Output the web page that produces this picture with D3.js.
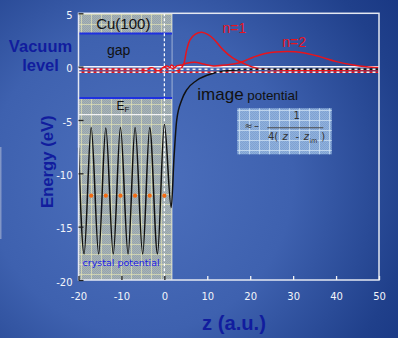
<!DOCTYPE html>
<html>
<head>
<meta charset="utf-8">
<script src="https://cdn.jsdelivr.net/npm/d3@7"></script>
<style>
  html, body { margin: 0; padding: 0; overflow: hidden; background: #2f4f9f; }
  svg { display: block; }
</style>
</head>
<body>
<svg id="chart" width="398" height="338"></svg>
<script>
// ---- data -------------------------------------------------------------
const zTicks = [-20, -10, 0, 10, 20, 30, 40, 50];
const eTicks = [-20, -15, -10, -5, 0, 5];
const zDomain = [-20, 50];
const eDomain = [-20, 5];

const crystalEdge = 1.8;          // z (a.u.) where the bulk ends
const gapBand = [-2.95, 3.1];     // projected bulk band gap of Cu(100), eV
const n1Level = -0.52;            // image-state energies, eV
const n2Level = -0.25;

// atom planes (lattice spacing 3.41 a.u.)
const atomZ = [-17.05, -13.64, -10.23, -6.82, -3.41, 0];
const atomE = -12.1;

// crystal potential (extrema) followed by the image-potential tail
const potZ = [-20, -18.7, -17.05, -15.3, -13.64, -11.9, -10.23, -8.45, -6.82, -5.05, -3.41, -1.6, 0,
              1.6, 2.26, 2.88, 4.05, 5.2, 7.5, 11.4, 15.3, 19.2, 25, 50];
const potE = [-7.6, -17.55, -5.7, -17.55, -5.75, -17.55, -5.7, -17.55, -5.7, -17.55, -5.7, -17.55, -5.4,
              -13.2, -8.43, -5.0, -3.12, -2.18, -1.3, -0.62, -0.37, -0.27, -0.25, -0.25];

// n = 1 image-state probability density (drawn offset on the energy axis)
const n1Z = [-20, -6, -4.5, -2.9, -1.5, 0, 0.9, 1.7, 3.2, 4.42, 5.21, 5.98, 7.14, 8.7, 10.2, 11.6,
             13.7, 16.0, 18.4, 21.5, 26.9, 50];
const n1E = [-0.25, -0.25, -0.35, -0.1, -0.45, 0.0, -0.3, 0.15, -0.4, 0.16, 1.57, 2.5, 3.02, 3.22, 3.0, 2.55,
             1.57, 0.79, 0.32, -0.15, -0.31, -0.3];

// n = 2 image-state probability density
const n2Z = [-20, -5, -3, -1, 0.5, 2, 3, 4.05, 5.21, 7.14, 9.07, 11.4, 14.5, 17.6, 20.7, 23.8, 28.5,
             32.3, 36.2, 40.1, 44.0, 47.1, 50];
const n2E = [-0.25, -0.25, -0.15, -0.35, 0.05, -0.2, 0.1, 0.16, 0.32, 0.41, 0.25, 0.07, 0.16, 0.37, 0.88,
             1.26, 1.41, 1.31, 0.94, 0.47, 0.16, 0.0, -0.09];

// ---- setup ------------------------------------------------------------
const W = 398, H = 338;
const svg = d3.select("#chart");
const x = d3.scaleLinear().domain(zDomain).range([78.5, 379]);
const y = d3.scaleLinear().domain(eDomain).range([280, 13.3]);

const defs = svg.append("defs");

const bg = defs.append("radialGradient").attr("id", "bg")
  .attr("gradientUnits", "userSpaceOnUse")
  .attr("cx", 140).attr("cy", 180).attr("r", 340);
[[0, "#4d70bd"], [0.45, "#3e61af"], [0.8, "#20408b"], [1, "#163480"]]
  .forEach(([o, c]) => bg.append("stop").attr("offset", o).attr("stop-color", c));

function checker(id, c1, c2) {
  const p = defs.append("pattern").attr("id", id)
    .attr("patternUnits", "userSpaceOnUse").attr("width", 2).attr("height", 2);
  p.append("rect").attr("width", 2).attr("height", 2).attr("fill", c1);
  p.append("rect").attr("width", 1).attr("height", 1).attr("fill", c2);
  p.append("rect").attr("x", 1).attr("y", 1).attr("width", 1).attr("height", 1).attr("fill", c2);
}
function grid(id, color, ox, oy, op) {
  const p = defs.append("pattern").attr("id", id)
    .attr("patternUnits", "userSpaceOnUse").attr("width", 10).attr("height", 10)
    .attr("x", ox).attr("y", oy);
  p.append("path").attr("d", "M0 0.5H10M0.5 0V10")
    .attr("stroke", color).attr("stroke-width", 1).attr("stroke-opacity", op).attr("fill", "none");
}
checker("chkCrystal", "#a8b3b7", "#96a4ab");
grid("gridCrystal", "#ecebb4", 81, 14, 0.6);
checker("chkBox", "#90b2dc", "#7fa1d2");
grid("gridBox", "#d4e6f6", 239, 110, 0.7);

// background
svg.append("rect").attr("width", W).attr("height", H).attr("fill", "url(#bg)");

// thin guide line at the left edge
svg.append("line").attr("x1", 0.8).attr("x2", 0.8).attr("y1", 147).attr("y2", 239)
  .attr("stroke", "#93a4cc").attr("stroke-width", 1.2);

// ---- bulk crystal shading (above and below the gap) -----------------
const bulk = [[eDomain[1], gapBand[1]], [gapBand[0], eDomain[0]]];
bulk.forEach(([top, bot]) => {
  ["url(#chkCrystal)", "url(#gridCrystal)"].forEach(f => {
    svg.append("rect")
      .attr("x", x(zDomain[0])).attr("y", y(top))
      .attr("width", x(crystalEdge) - x(zDomain[0]))
      .attr("height", y(bot) - y(top))
      .attr("fill", f);
  });
});
// light edge of the crystal
svg.append("line").attr("x1", x(crystalEdge)).attr("x2", x(crystalEdge))
  .attr("y1", y(eDomain[1])).attr("y2", y(eDomain[0]))
  .attr("stroke", "#c9d3e6").attr("stroke-width", 1).attr("opacity", 0.7);
// label strip under E_F
svg.append("line").attr("x1", x(zDomain[0])).attr("x2", x(crystalEdge))
  .attr("y1", y(-4.5)).attr("y2", y(-4.5))
  .attr("stroke", "#f4f4f4").attr("stroke-width", 1.2);

// band-gap edges
gapBand.forEach(e => {
  svg.append("line").attr("x1", x(zDomain[0])).attr("x2", x(crystalEdge))
    .attr("y1", y(e)).attr("y2", y(e))
    .attr("stroke", "#1f31e0").attr("stroke-width", 2);
});

// surface plane z = 0
svg.append("line").attr("x1", x(0)).attr("x2", x(0))
  .attr("y1", y(eDomain[1])).attr("y2", y(eDomain[0]))
  .attr("stroke", "#ffffff").attr("stroke-width", 1.2).attr("stroke-dasharray", "3,2");

// ---- energy reference lines ----------------------------------------
svg.append("line").attr("x1", x(zDomain[0])).attr("x2", x(zDomain[1]))
  .attr("y1", y(0)).attr("y2", y(0))
  .attr("stroke", "#f2f4fa").attr("stroke-width", 1.5);
svg.append("line").attr("x1", x(zDomain[0])).attr("x2", x(zDomain[1]))
  .attr("y1", y(n1Level)).attr("y2", y(n1Level))
  .attr("stroke", "#e8141c").attr("stroke-width", 1.6);

// ---- curves -------------------------------------------------------
const smooth = d3.line().x(d => x(d[0])).y(d => y(d[1])).curve(d3.curveCatmullRom.alpha(0.5));
const mono = d3.line().x(d => x(d[0])).y(d => y(d[1])).curve(d3.curveMonotoneX);

svg.append("path").datum(d3.zip(n2Z, n2E)).attr("d", smooth)
  .attr("fill", "none").attr("stroke", "#e8141c").attr("stroke-width", 1.5);
svg.append("path").datum(d3.zip(n1Z, n1E)).attr("d", smooth)
  .attr("fill", "none").attr("stroke", "#e8141c").attr("stroke-width", 1.5);

svg.append("path").datum(d3.zip(potZ, potE)).attr("d", mono)
  .attr("fill", "none").attr("stroke", "#111111").attr("stroke-width", 1.5);

// dashed overlays on the image-state levels
[n2Level, n1Level].forEach(e => {
  svg.append("line").attr("x1", x(zDomain[0])).attr("x2", x(zDomain[1]))
    .attr("y1", y(e)).attr("y2", y(e))
    .attr("stroke", "#f0f0f0").attr("stroke-width", 1.5).attr("stroke-dasharray", "3,3");
});

// atom planes
svg.selectAll("circle.atom").data(atomZ).join("circle").attr("class", "atom")
  .attr("cx", d => x(d)).attr("cy", y(atomE)).attr("r", 2.1)
  .attr("fill", "#f26a12");

// ---- frame & axes -------------------------------------------------
svg.append("rect")
  .attr("x", x(zDomain[0])).attr("y", y(eDomain[1]))
  .attr("width", x(zDomain[1]) - x(zDomain[0]))
  .attr("height", y(eDomain[0]) - y(eDomain[1]))
  .attr("fill", "none").attr("stroke", "#e4e8f2").attr("stroke-width", 1.5);

const fmt = d => String(d);
const xAxis = svg.append("g").attr("transform", `translate(0,${y(eDomain[0])})`)
  .call(d3.axisBottom(x).tickValues(zTicks).tickSize(-4).tickPadding(13).tickFormat(fmt));
xAxis.select(".domain").remove();
xAxis.selectAll(".tick line")
  .attr("stroke", d => d <= crystalEdge ? "#222" : "#f4f4f4").attr("stroke-width", 1.3);

const yAxis = svg.append("g").attr("transform", `translate(${x(zDomain[0])},0)`)
  .call(d3.axisLeft(y).tickValues(eTicks).tickSize(-5).tickPadding(6).tickFormat(fmt));
yAxis.select(".domain").remove();
yAxis.selectAll(".tick line").attr("stroke", "#222").attr("stroke-width", 1.3);
yAxis.selectAll(".tick text").attr("dy", "0.52em");

svg.selectAll(".tick text")
  .attr("fill", "#f3f5fa").attr("font-family", "'DejaVu Sans', Verdana, sans-serif")
  .attr("font-size", 10);

// ---- labels -------------------------------------------------------
const sans = "'Liberation Sans', Arial, sans-serif";
const titleBlue = "#111d9e";

svg.append("text").attr("x", 123.3).attr("y", 29).attr("text-anchor", "middle")
  .attr("font-family", sans).attr("font-size", 15).attr("fill", "#111").text("Cu(100)");
svg.append("text").attr("x", 118.7).attr("y", 55).attr("text-anchor", "middle")
  .attr("font-family", sans).attr("font-size", 14).attr("fill", "#111").text("gap");

const ef = svg.append("text").attr("x", 116.5).attr("y", 110)
  .attr("font-family", sans).attr("font-size", 12).attr("fill", "#111");
ef.append("tspan").text("E");
ef.append("tspan").attr("font-size", 8).attr("dy", 2).text("F");

svg.append("text").attr("x", 82.5).attr("y", 265.5)
  .attr("font-family", "'DejaVu Sans', sans-serif").attr("font-size", 9.5)
  .attr("fill", "#1a1ae8").text("crystal potential");

svg.append("text").attr("x", 222.5).attr("y", 33.3)
  .attr("font-family", sans).attr("font-size", 14).attr("fill", "#e8141c").text("n=1");
svg.append("text").attr("x", 282.3).attr("y", 46.7)
  .attr("font-family", sans).attr("font-size", 14).attr("fill", "#e8141c").text("n=2");

svg.append("text").attr("x", 197.3).attr("y", 99.5)
  .attr("font-family", sans).attr("font-size", 17).attr("fill", "#111").text("image");
svg.append("text").attr("x", 247.3).attr("y", 99.5)
  .attr("font-family", sans).attr("font-size", 13.4).attr("fill", "#111").text("potential");

svg.append("text").attr("x", 40.5).attr("y", 51.5).attr("text-anchor", "middle")
  .attr("font-family", sans).attr("font-weight", "bold").attr("font-size", 16.5)
  .attr("fill", titleBlue).text("Vacuum");
svg.append("text").attr("x", 40.5).attr("y", 70.5).attr("text-anchor", "middle")
  .attr("font-family", sans).attr("font-weight", "bold").attr("font-size", 16.5)
  .attr("fill", titleBlue).text("level");

svg.append("text").attr("transform", "translate(52.5,161.7) rotate(-90)")
  .attr("text-anchor", "middle")
  .attr("font-family", sans).attr("font-weight", "bold").attr("font-size", 16.7)
  .attr("fill", titleBlue).text("Energy (eV)");

svg.append("text").attr("x", 234).attr("y", 330).attr("text-anchor", "middle")
  .attr("font-family", sans).attr("font-weight", "bold").attr("font-size", 20.2)
  .attr("fill", titleBlue).text("z (a.u.)");

// ---- image-potential formula box ---------------------------------
const box = { x: 237.3, y: 108.3, w: 94.4, h: 46 };
["url(#chkBox)", "url(#gridBox)"].forEach(f => {
  svg.append("rect").attr("x", box.x).attr("y", box.y)
    .attr("width", box.w).attr("height", box.h).attr("fill", f);
});
const fx = svg.append("g").attr("font-family", "'DejaVu Sans', sans-serif")
  .attr("font-size", 10).attr("fill", "#333");
fx.append("text").attr("x", 244.5).attr("y", 128.5).text("\u2248");
fx.append("text").attr("x", 254).attr("y", 128.5).text("\u2013");
fx.append("text").attr("x", 296.7).attr("y", 118.5).attr("text-anchor", "middle").text("1");
fx.append("line").attr("x1", 267.3).attr("x2", 323.3).attr("y1", 127.7).attr("y2", 127.7)
  .attr("stroke", "#4a4a4a").attr("stroke-width", 1.1);
fx.append("text").attr("x", 268).attr("y", 140).text("4(");
fx.append("text").attr("x", 282.5).attr("y", 140).attr("font-style", "italic").text("z");
fx.append("text").attr("x", 295.5).attr("y", 140).text("-");
fx.append("text").attr("x", 303.8).attr("y", 140).attr("font-style", "italic").text("z");
fx.append("text").attr("x", 309.3).attr("y", 142.5).attr("font-size", 6.5).text("im");
fx.append("text").attr("x", 321.3).attr("y", 140).text(")");
</script>
</body>
</html>
